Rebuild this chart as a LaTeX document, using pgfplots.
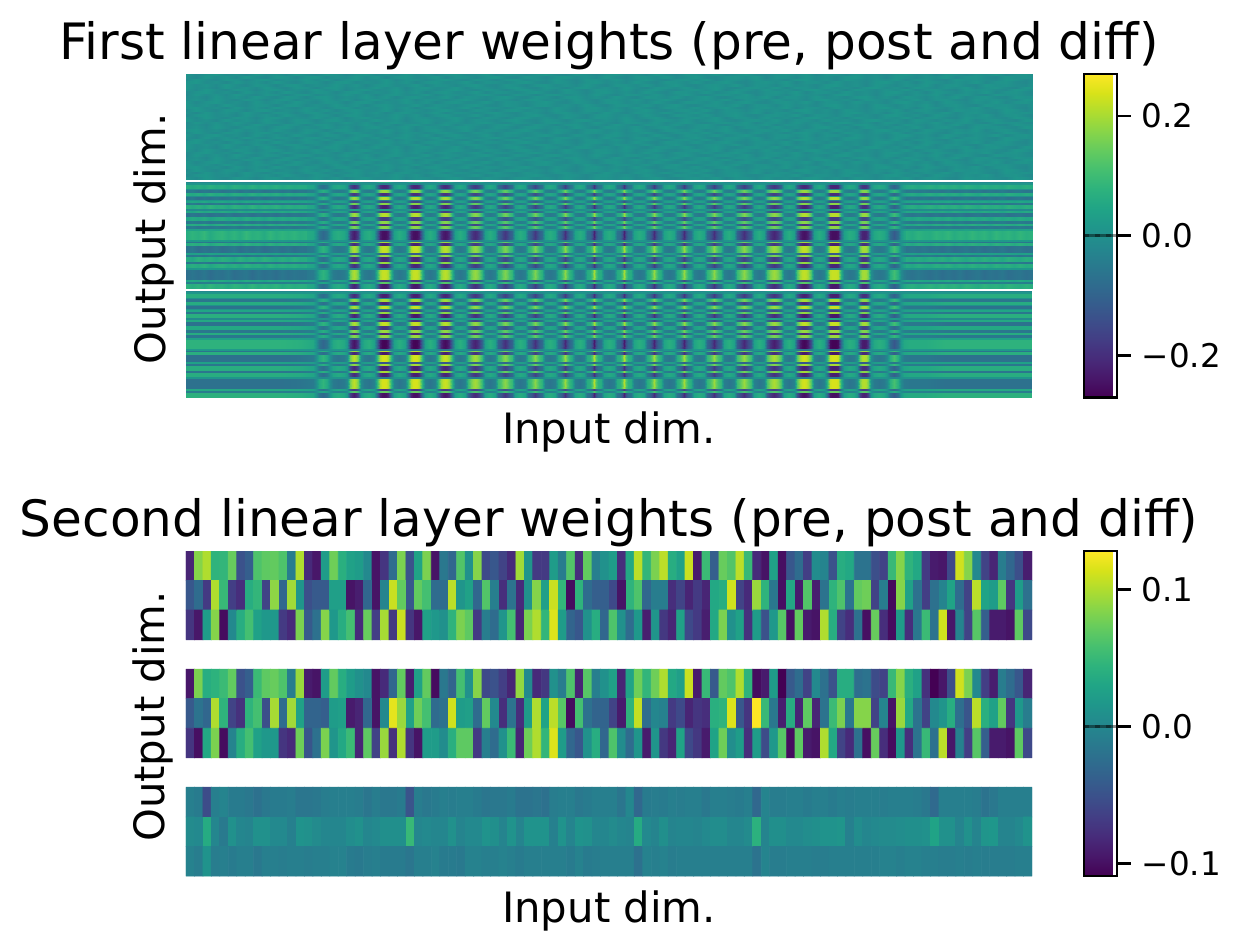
\documentclass[border=0pt]{standalone}
\usepackage{fontspec}
\setmainfont{DejaVu Sans}
\usepackage{pgfplots}
\usepackage{pgfplotstable}
\pgfplotsset{compat=1.18}
\newcommand{\tfont}{\fontsize{25.05}{28}\selectfont}
\newcommand{\lfont}{\fontsize{20.9}{24}\selectfont}
\newcommand{\nfont}{\fontsize{16.3}{18}\selectfont}
\pgfplotsset{
  panel/.style={
    scale only axis, width=423pt, colormap/viridis,
    xtick=\empty, ytick=\empty, axis line style={draw=none},
    enlargelimits=false, y dir=reverse,
    title style={at={(0.5,1)},anchor=base,yshift=1.5pt,font=\tfont},
    xlabel style={at={(0.5,0)},anchor=base,yshift=-23pt,font=\lfont},
    ylabel style={at={(0,0.5)},anchor=base,font=\lfont,xshift=-1.5pt,yshift=10.5pt},
    xlabel={Input dim.}, ylabel={Output dim.},
    colorbar,
  },
  cbar/.style={
    colorbar style={
      at={(1.0615,1)}, anchor=north west, width=16.5pt,
      ytick={#1}, tick align=outside, ytick pos=right,
      major tick length=6.8pt, tick style={line width=1.25pt,black},
      axis line style={line width=1.25pt},
      yticklabel style={font=\nfont,xshift=2pt},
      after end axis/.code={
        \draw[line width=1.25pt,black,opacity=0.45] (axis cs:0,0)--(axis cs:1,0);
        \draw[line width=1.25pt,black,opacity=0.35,dash pattern=on 2.5pt off 3pt] (axis cs:0,0)--(axis cs:1,0);},
    },
  },
}
% Column profile of the first layer (pixel column, relative weight)
\pgfplotstableread{
x g
186 1
280 1
300 .9
313 .7
316 .1
319 -.8
323 -1.2
327 -.8
330 .1
333 .7
338 .9
344 .7
347 .2
350 -2.2
352 -2.8
354 -3.1
356 -2.8
358 -2.2
361 .2
364 .7
369 .9
374 .5
377 -1.2
380 -3
382 -3.35
384 -3.4
386 -3.35
388 -3
391 -1.2
394 .5
399 .9
405 .5
408 -1.2
411 -3
413 -3.35
415 -3.4
417 -3.35
419 -3
422 -1.2
425 .5
430 .9
435 .5
438 -1.2
441 -2.7
443 -3.1
445 -3.25
447 -3.1
449 -2.7
452 -1.2
455 .5
460 .9
465 .5
468 -1.3
471 -2.2
473 -2.6
475 -2.8
477 -2.6
479 -2.2
482 -1.3
485 .5
490 .9
495 .5
498 -1.3
501 -1.7
503 -2.2
505 -2.5
507 -2.2
509 -1.7
512 -1.3
515 .5
520 .9
525 .6
528 -1.1
531 -1.5
533 -2
535 -2.5
537 -2
539 -1.5
542 -1.1
545 .6
550 .9
555 .6
558 -.8
561 -1.3
563 -1.9
565 -2.7
567 -1.9
569 -1.3
572 -.8
575 .6
580 .9
584 .6
587 -.9
590 -1.1
592 -1.7
594 -3
596 -1.7
598 -1.1
601 -.9
604 .6
609 .9
614 .6
617 -.9
620 -1.1
622 -1.7
624 -3
626 -1.7
628 -1.1
631 -.9
634 .6
639 .9
644 .6
647 -.9
650 -1.3
652 -1.9
654 -2.8
656 -1.9
658 -1.3
661 -.9
664 .6
669 .9
674 .6
677 -.9
680 -1.3
682 -1.9
684 -2.8
686 -1.9
688 -1.3
691 -.9
694 .6
699 .9
704 .6
707 -1.2
710 -1.6
712 -2.05
714 -2.7
716 -2.05
718 -1.6
721 -1.2
724 .6
729 .9
734 .5
737 -1.4
740 -1.9
742 -2.3
744 -2.7
746 -2.3
748 -1.9
751 -1.4
754 .5
759 .9
764 .5
767 -1.6
770 -2.4
772 -2.7
774 -2.9
776 -2.7
778 -2.4
781 -1.6
784 .5
789 .9
794 .5
797 -1.8
800 -2.9
802 -3.25
804 -3.35
806 -3.25
808 -2.9
811 -1.8
814 .5
819 .9
824 .5
827 -1.1
830 -3.25
832 -3.4
834 -3.4
836 -3.4
838 -3.25
841 -1.1
844 .5
849 .9
854 .7
857 .1
860 -2.3
862 -2.9
864 -3
866 -2.9
868 -2.3
871 .1
874 .7
879 .9
884 .7
887 .2
890 -1
894 -1.6
898 -1
901 .2
904 .7
909 .8
925 .8
945 1
1032 1
}\profile
% Fine texture of the post-training block at its left and right ends
\pgfplotstableread{
x n0 n1 n2
186 1.15 .85 1.05
192 .9 1.1 .8
198 1.1 .95 1.2
204 .85 1.2 .95
210 1.2 .8 1.1
216 .95 1.05 .85
222 1.05 1.15 1.15
228 .8 .9 1
234 1.15 1.1 .8
240 1 .85 1.15
246 .85 1.2 .9
252 1.2 .95 1.1
258 .9 1.05 .85
264 1.1 .8 1.2
270 .95 1.15 1
276 1.15 .9 .85
282 .85 1.1 1.1
288 1.05 .95 .9
294 .9 1.1 1.15
300 1 .9 .95
306 .95 1 1
}\noiseL
\pgfplotstableread{
x n0 n1 n2
906 .85 .95 1
912 1 .8 .85
918 .8 1.05 1
924 .95 .9 .85
930 1.1 .85 1.05
936 .9 1.1 .9
942 1.15 .95 1.1
948 .95 1.15 .85
954 1.1 .85 1.15
960 .85 1.05 1
966 1.15 .9 .85
972 1 1.15 1.1
978 .85 .95 .9
984 1.15 1.1 1.15
990 .95 .85 .95
996 1.05 1.15 1.1
1002 .85 .95 .85
1008 1.15 1.1 1.15
1014 1 .9 1
1020 .9 1.15 .9
1026 1.1 .95 1.1
1032 .95 1.05 .95
}\noiseR
% Fine grain of the pre-training weights
\pgfplotstableread[row sep=crcr,header=false]{
.011\\-.014\\.006\\.016\\-.008\\.003\\-.016\\.014\\-.006\\.008\\-.011\\.016\\
-.003\\-.014\\.011\\.006\\-.016\\.008\\.014\\-.011\\.003\\-.008\\.016\\-.006\\
.011\\-.016\\.006\\.014\\-.008\\-.003\\.016\\-.014\\.008\\.003\\-.011\\.006\\
.016\\-.006\\-.014\\.011\\.003\\-.016\\.008\\.014\\-.008\\.006\\-.011\\.016\\
-.003\\-.016\\.011\\.008\\-.006\\.014\\-.011\\.003\\.016\\-.008\\-.014\\.006\\
.011\\-.003\\.016\\-.016\\.008\\.006\\-.011\\.014\\-.006\\.003\\-.014\\.011\\
.016\\-.008\\.006\\-.016\\.014\\.003\\-.011\\.008\\-.003\\.016\\-.014\\.006\\
.011\\-.008\\-.016\\.014\\.003\\.008\\-.006\\-.011\\.016\\.006\\-.014\\.011\\
}\grain
% each strip is drawn as a two-line mesh: the table twice
\pgfplotstablevertcat{\profileD}{\profile}\pgfplotstablevertcat{\profileD}{\profile}
\pgfplotstablevertcat{\noiseLD}{\noiseL}\pgfplotstablevertcat{\noiseLD}{\noiseL}
\pgfplotstablevertcat{\noiseRD}{\noiseR}\pgfplotstablevertcat{\noiseRD}{\noiseR}
\pgfplotstablevertcat{\grainD}{\grain}\pgfplotstablevertcat{\grainD}{\grain}
\pgfplotstablegetrowsof{\profile}\pgfmathtruncatemacro{\Np}{\pgfplotsretval}
\newcommand{\rowlist}{0/1/-0.3,1/3/0.2,3/7.5/0.95,7.5/8.3/0.1,8.3/10.7/-0.85,10.7/14/0.9,14/14.7/0,14.7/18/-0.95,18/19/0.2,19/21/0.7,21/23.5/-0.8,23.5/27.3/1,27.3/29/-0.2,29/31.5/0.8,31.5/35.5/-0.95,35.5/38.7/0.8,38.7/39.3/0.1,39.3/42/-0.8,42/44.5/0.9,44.5/47/-0.8,47/49.5/0.55,49.5/58.5/1.12,58.5/60/0.3,60/61.5/-0.9,61.5/64.7/1,64.7/71/-1,71/73/0.55,73/75.5/-0.85,75.5/80/0.95,80/82.5/-0.85,82.5/86.5/0.95,86.5/88/0.2,88/98.5/-1,98.5/100.7/0.8,100.7/102.5/-0.6,102.5/107.5/1.05}
\newcommand{\rowbands}[1]{%
  \foreach \ya/\yb/\amp in \rowlist {
    \pgfmathsetmacro{\yd}{\yb+0.15}
    \edef\tmp{\noexpand\addplot[surf,shader=interp,mesh/cols=\Np,point meta=explicit] table[x=x,y expr={\noexpand\coordindex<\Np ? \ya : \yd},meta expr=\noexpand\thisrow{g}*(\amp)*#1] {\noexpand\profileD};}
    \tmp
  }%
}
\newcommand{\rowtexture}[1]{%
  \foreach \ya/\yb/\amp [count=\ci] in \rowlist {
    \pgfmathsetmacro{\yd}{\yb+0.15}
    \pgfmathtruncatemacro{\cc}{mod(\ci,3)}
    \edef\tmp{\noexpand\addplot[surf,shader=interp,mesh/cols=21,point meta=explicit] table[x=x,y expr={\noexpand\coordindex<21 ? \ya : \yd},meta expr=\noexpand\thisrow{n\cc}*(\amp)*#1] {\noexpand\noiseLD};
      \noexpand\addplot[surf,shader=interp,mesh/cols=22,point meta=explicit] table[x=x,y expr={\noexpand\coordindex<22 ? \ya : \yd},meta expr=\noexpand\thisrow{n\cc}*(\amp)*#1] {\noexpand\noiseRD};}
    \tmp
  }%
}
\begin{document}
\begin{tikzpicture}
\path[use as bounding box] (0,0) rectangle (622pt,474.5pt);
% ---------- first layer: frame, pre-training block
\begin{axis}[panel, cbar={-0.2,0,0.2}, at={(93pt,275.75pt)}, anchor=south west,
  height=161.75pt, xmin=186, xmax=1032, ymin=74, ymax=397.5,
  point meta min=-0.27, point meta max=0.27,
  title={First linear layer weights (pre, post and diff)},
  colorbar style={yticklabels={−0.2,0.0,0.2}}]
\foreach \yy/\sh in {74/0,76.5/50,79/100,81.5/20,84/70,86.5/30,89/90,91.5/10,94/60,96.5/40,99/80,101.5/0,104/70,106.5/20,109/100,111.5/50,114/10,116.5/90,119/30,121.5/60,124/40,126.5/80,129/20,131.5/100,134/0,136.5/50,139/100,141.5/20,144/70,146.5/30,149/90,151.5/10,154/60,156.5/40,159/80,161.5/0,164/70,166.5/20,169/100,171.5/50,174/10,176.5/90} {
  \pgfmathsetmacro{\yd}{min(\yy+2.65,179.5)}
  \edef\tmp{\noexpand\addplot[surf,shader=interp,mesh/cols=96,point meta=explicit] table[x index=0,y index=0,x expr={186+10*mod(\noexpand\coordindex,96)-\sh},y expr={\noexpand\coordindex<96 ? \yy : \yd},meta index=0] {\noexpand\grainD};}
  \tmp
}
\end{axis}
% ---------- first layer: post-training block
\begin{axis}[hide axis, scale only axis, colormap/viridis, width=423pt, height=53.25pt,
  at={(93pt,330.25pt)}, anchor=south west, xmin=186, xmax=1032, ymin=0, ymax=107, y dir=reverse,
  point meta min=-0.27, point meta max=0.27]
\rowbands{0.066}
\rowtexture{0.066}
\end{axis}
% ---------- first layer: difference block
\begin{axis}[hide axis, scale only axis, colormap/viridis, width=423pt, height=53.25pt,
  at={(93pt,275.75pt)}, anchor=south west, xmin=186, xmax=1032, ymin=0, ymax=107, y dir=reverse,
  point meta min=-0.27, point meta max=0.27]
\rowbands{0.07}
\end{axis}
% ---------- second layer
\begin{axis}[panel, cbar={-0.1,0,0.1}, at={(93pt,36.5pt)}, anchor=south west,
  height=162.5pt, xmin=-0.5, xmax=99.5, ymin=-0.5, ymax=10.5,
  point meta min=-0.109, point meta max=0.128,
  title={Second linear layer weights (pre, post and diff)},
  colorbar style={yticklabels={−0.1,0.0,0.1}}]
\addplot[matrix plot*, mesh/cols=100, point meta=explicit] table[header=false,row sep=crcr,
  x expr={mod(\coordindex,100)}, y expr={floor(\coordindex/100)}, meta index=0] {
-.085\\.085\\.1\\.045\\.047\\.073\\-.05\\-.038\\.062\\.069\\
.071\\.062\\-.009\\.1\\-.081\\-.095\\.021\\.076\\.04\\.026\\
.021\\.002\\-.097\\-.073\\-.026\\.081\\-.05\\.028\\.081\\-.097\\
-.014\\-.031\\.064\\.01\\.085\\-.057\\-.045\\-.062\\-.081\\.095\\
.014\\-.069\\-.069\\.021\\-.009\\.064\\-.078\\.071\\-.007\\.01\\
.021\\-.078\\.033\\.104\\.047\\.081\\.104\\.038\\.026\\.109\\
-.092\\.052\\-.038\\.073\\.064\\.104\\.05\\-.081\\-.097\\.026\\
-.1\\-.045\\-.026\\-.066\\.005\\-.002\\-.05\\.038\\.033\\-.019\\
-.019\\-.052\\-.062\\.05\\.085\\.045\\.033\\-.069\\-.092\\-.095\\
-.057\\.111\\.085\\.002\\-.062\\-.085\\-.009\\-.031\\-.052\\-.09\\
-.045\\-.026\\-.069\\.1\\.05\\-.066\\-.078\\.038\\.047\\-.062\\
.088\\-.031\\.095\\.014\\-.052\\-.043\\-.043\\.024\\.024\\-.097\\
-.09\\-.031\\-.097\\-.002\\.109\\.071\\-.045\\.071\\.057\\-.026\\
-.026\\.104\\.014\\.026\\-.031\\.064\\-.007\\-.078\\-.019\\-.081\\
.01\\.085\\.024\\.109\\.047\\-.102\\.045\\-.026\\-.038\\-.038\\
-.057\\-.097\\.045\\.062\\-.031\\-.009\\-.009\\-.078\\-.062\\-.085\\
-.069\\-.085\\.033\\.038\\.111\\-.062\\-.081\\.092\\.045\\-.014\\
-.1\\.033\\-.092\\.064\\-.09\\-.019\\.045\\.062\\-.019\\.071\\
.076\\-.062\\-.009\\-.104\\.085\\.026\\-.021\\-.066\\-.021\\-.002\\
.028\\-.026\\-.062\\.104\\.028\\.021\\.069\\-.073\\.021\\-.021\\
-.073\\-.095\\.021\\.085\\-.102\\.002\\.038\\.057\\.026\\.017\\
.017\\-.069\\-.081\\.081\\-.043\\-.021\\.085\\.017\\.038\\.057\\
-.081\\.073\\-.066\\.097\\-.071\\.109\\-.073\\-.095\\.026\\.017\\
.01\\.045\\.081\\.069\\-.069\\-.009\\-.026\\.014\\.057\\-.085\\
.081\\.1\\.047\\.116\\.021\\-.033\\-.045\\.01\\.038\\-.031\\
.062\\.01\\-.026\\.017\\-.09\\.014\\-.071\\-.085\\.026\\-.057\\
-.069\\-.09\\.033\\.081\\.01\\.026\\-.076\\.021\\-.05\\.017\\
.066\\-.1\\.071\\-.092\\-.097\\.1\\.038\\-.062\\-.078\\-.021\\
-.1\\.073\\-.078\\-.102\\.021\\-.078\\-.014\\.052\\-.019\\.111\\
-.095\\-.002\\-.062\\.066\\-.038\\-.092\\-.092\\-.097\\.069\\-.057\\
};
\addplot[matrix plot*, mesh/cols=100, point meta=explicit] table[header=false,row sep=crcr,
  x expr={mod(\coordindex,100)}, y expr={floor(\coordindex/100)+4}, meta index=0] {
-.095\\.081\\.038\\.043\\.052\\.071\\-.05\\-.038\\.052\\.069\\
.073\\.062\\-.009\\.092\\-.092\\-.097\\.021\\.071\\.038\\.021\\
.01\\.002\\-.097\\-.081\\-.031\\.071\\-.09\\.026\\.071\\-.102\\
-.014\\-.033\\.057\\.01\\.085\\-.057\\-.05\\-.066\\-.085\\.09\\
.002\\-.081\\-.071\\.01\\-.009\\.062\\-.085\\.066\\-.007\\.01\\
.026\\-.085\\.028\\.076\\.047\\.076\\.1\\.033\\.024\\.109\\
-.092\\.05\\-.043\\.071\\.062\\.1\\.045\\-.102\\-.092\\.021\\
-.109\\-.043\\-.026\\-.062\\.002\\-.021\\-.05\\.038\\.038\\-.024\\
-.019\\-.055\\-.062\\.05\\.085\\.04\\.026\\-.076\\-.109\\-.095\\
-.052\\.111\\.081\\.002\\-.066\\-.09\\-.009\\-.026\\-.045\\-.085\\
-.043\\-.019\\-.031\\.1\\.045\\-.062\\-.076\\.045\\.057\\-.052\\
.097\\-.026\\.095\\.026\\-.033\\-.033\\-.038\\.021\\.024\\-.092\\
-.085\\-.031\\-.097\\.002\\.119\\.092\\.026\\.076\\.057\\-.026\\
-.021\\.111\\.021\\.024\\-.026\\.071\\.002\\-.078\\-.019\\-.078\\
.021\\.1\\.028\\.104\\.066\\-.102\\.057\\-.021\\-.033\\-.033\\
-.062\\-.092\\.045\\.107\\-.024\\0\\-.005\\-.069\\-.057\\-.085\\
-.073\\-.078\\.04\\.045\\.116\\-.045\\-.073\\.128\\.05\\-.014\\
-.09\\.038\\-.085\\.069\\-.085\\-.019\\.052\\.081\\-.014\\.085\\
.085\\-.062\\-.002\\-.097\\.092\\.033\\-.019\\-.062\\.002\\.014\\
.038\\-.024\\-.047\\.104\\.04\\.026\\.071\\-.073\\.017\\-.009\\
-.073\\-.1\\.033\\.081\\-.102\\-.002\\.038\\.057\\.026\\.017\\
.017\\-.073\\-.081\\.076\\-.047\\-.021\\.081\\.014\\.033\\.052\\
-.085\\.069\\-.062\\.092\\-.076\\.1\\-.073\\-.097\\.021\\.021\\
.005\\.04\\.069\\.069\\-.069\\-.007\\-.026\\.01\\.052\\-.085\\
.076\\.1\\.047\\.116\\.021\\-.031\\-.045\\.01\\.038\\-.031\\
.062\\.005\\-.026\\.014\\-.092\\.014\\-.071\\-.085\\.028\\-.057\\
-.071\\-.092\\.028\\.076\\.007\\.021\\-.078\\.021\\-.055\\.017\\
.066\\-.102\\.069\\-.092\\-.097\\.1\\.033\\-.062\\-.081\\-.021\\
-.1\\.073\\-.078\\-.102\\.017\\-.078\\-.019\\.05\\-.021\\.104\\
-.095\\-.005\\-.066\\.066\\-.038\\-.092\\-.092\\-.097\\.069\\-.057\\
};
\addplot[matrix plot*, mesh/cols=100, point meta=explicit] table[header=false,row sep=crcr,
  x expr={mod(\coordindex,100)}, y expr={floor(\coordindex/100)+8}, meta index=0] {
-.007\\-.011\\-.055\\-.007\\-.002\\-.011\\-.011\\-.014\\-.021\\-.014\\
-.011\\-.011\\-.009\\-.016\\-.016\\-.014\\-.009\\-.007\\-.007\\-.007\\
-.009\\-.016\\-.009\\-.014\\-.014\\-.011\\-.048\\-.009\\-.014\\-.011\\
-.007\\-.009\\-.007\\-.007\\-.011\\-.016\\-.014\\-.014\\-.011\\-.019\\
-.019\\-.016\\-.021\\-.009\\-.007\\-.007\\-.014\\-.011\\-.007\\-.007\\
-.007\\-.016\\.001\\-.03\\-.011\\-.009\\-.011\\-.007\\-.009\\-.007\\
-.007\\-.014\\-.007\\-.007\\-.009\\-.011\\-.007\\-.03\\-.002\\-.009\\
-.009\\-.007\\-.007\\-.011\\-.007\\-.007\\-.011\\-.007\\-.009\\-.007\\
-.007\\-.007\\-.009\\-.007\\-.007\\-.007\\-.009\\-.014\\-.028\\-.007\\
-.007\\-.007\\-.007\\-.009\\-.019\\-.014\\-.007\\-.007\\-.007\\-.007\\
.004\\.002\\.036\\0\\-.012\\.01\\0\\-.002\\.01\\.01\\
.002\\.002\\-.006\\.012\\.01\\.004\\0\\0\\0\\.006\\
.01\\0\\.002\\.008\\.008\\.008\\.05\\0\\.002\\0\\
0\\.01\\-.002\\.002\\.002\\.012\\.008\\-.002\\.012\\-.002\\
.012\\.012\\.012\\-.006\\.012\\-.002\\.012\\.01\\0\\0\\
.004\\0\\-.002\\.036\\.002\\-.002\\.008\\-.002\\0\\0\\
-.002\\.002\\.006\\.006\\0\\0\\.004\\.042\\-.002\\.008\\
.008\\.002\\.002\\.006\\.008\\.012\\.012\\.014\\-.006\\.006\\
0\\.002\\.004\\.004\\.006\\.008\\.008\\.01\\.028\\.01\\
.01\\-.002\\.01\\-.002\\.014\\.016\\-.002\\-.002\\.002\\.012\\
-.004\\-.009\\.012\\-.009\\-.007\\-.011\\-.007\\-.007\\-.014\\-.007\\
-.007\\-.009\\-.007\\-.007\\-.009\\-.007\\-.007\\-.004\\-.004\\-.011\\
-.013\\-.009\\-.007\\-.011\\-.011\\-.011\\-.016\\-.007\\-.007\\-.004\\
-.011\\-.011\\-.013\\-.004\\-.004\\-.007\\-.007\\-.004\\-.007\\-.011\\
-.007\\-.007\\-.007\\-.007\\-.007\\-.011\\-.004\\-.011\\-.009\\-.007\\
-.007\\-.007\\-.007\\-.021\\-.004\\-.007\\-.004\\-.009\\-.007\\-.007\\
-.007\\-.007\\-.007\\-.007\\-.007\\-.007\\-.007\\-.019\\-.002\\-.009\\
-.009\\-.007\\-.007\\-.007\\-.009\\-.009\\-.007\\-.007\\-.007\\-.007\\
-.007\\-.007\\-.004\\-.004\\-.007\\-.004\\-.004\\-.007\\-.007\\-.009\\
-.009\\-.007\\-.009\\-.007\\-.009\\-.009\\-.009\\-.009\\-.007\\-.007\\
};
\end{axis}
\end{tikzpicture}
\end{document}
